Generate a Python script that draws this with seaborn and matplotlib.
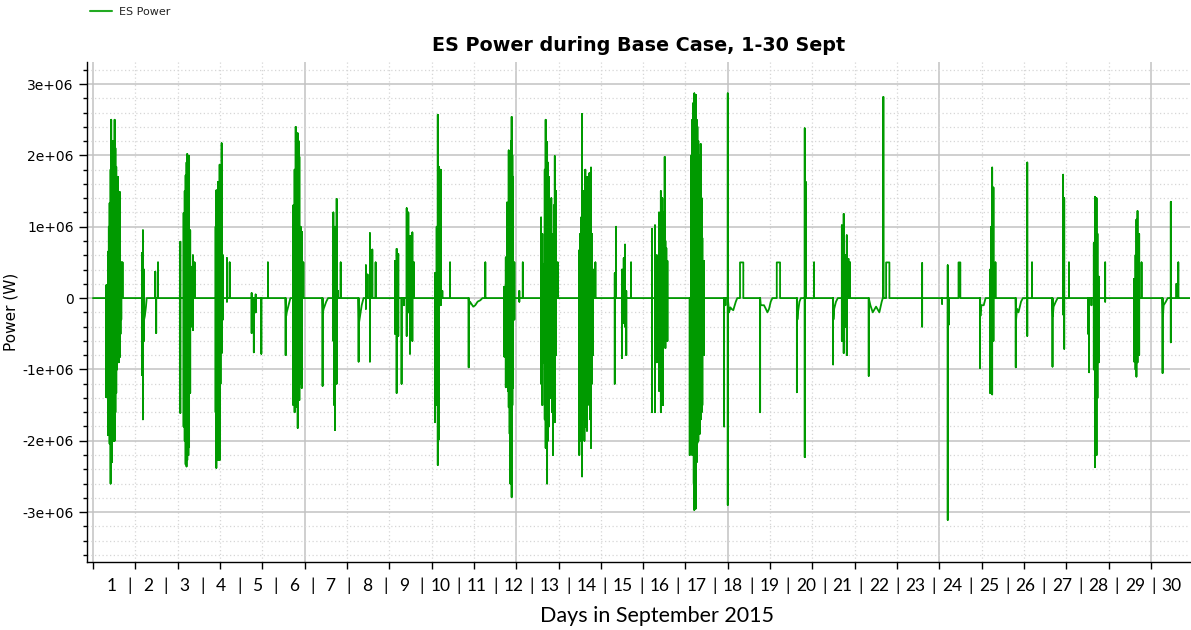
import numpy as np
import pandas as pd
import matplotlib
matplotlib.use("Agg")
import matplotlib.pyplot as plt
import matplotlib.ticker as mticker
import matplotlib.transforms as mtransforms
import seaborn as sns

# ============================================
# Data (time in days from 1 Sept 00:00, power in MW)
# ============================================
period_days = 30

# short spikes: each goes 0 -> high -> low -> 0 at the same instant
spike_day = [
    0.365, 0.41, 0.435, 0.456, 0.483, 0.50, 0.52, 0.547, 0.57, 0.593, 0.615, 0.638, 0.66, 0.684, 0.71, 0.73, 0.755, 0.775, 0.81,
    1.34, 1.368, 1.395, 1.705, 1.73, 1.78,
    2.39, 2.48, 2.51, 2.535, 2.56, 2.58, 2.61, 2.63, 2.66, 2.71, 2.735, 2.78,
    3.355, 3.375, 3.40, 3.42, 3.445, 3.465, 3.49, 3.52, 3.555, 3.665, 3.74,
    4.34, 4.375, 4.40, 4.45, 4.605, 4.785,
    5.27, 5.48, 5.515, 5.545, 5.57, 5.60, 5.625, 5.645, 5.68, 5.71, 5.755,
    6.28, 6.575, 6.60, 6.62, 6.645, 6.665, 6.70, 6.775,
    7.265, 7.465, 7.51, 7.575, 7.64, 7.73,
    8.26, 8.305, 8.35, 8.44, 8.505, 8.58, 8.625, 8.67, 8.735, 8.78,
    9.355, 9.40, 9.43, 9.465, 9.51, 9.555, 9.765,
    10.275, 10.73,
    11.25, 11.29, 11.325, 11.35, 11.37, 11.395, 11.415, 11.435, 11.45, 11.47, 11.49, 11.525, 11.66, 11.755,
    12.255, 12.29, 12.33, 12.355, 12.38, 12.40, 12.42, 12.44, 12.465, 12.51, 12.535, 12.555, 12.58, 12.605, 12.63, 12.665, 12.71,
    13.30, 13.325, 13.35, 13.375, 13.40, 13.42, 13.44, 13.465, 13.49, 13.51, 13.545, 13.575, 13.60, 13.62, 13.645, 13.675, 13.74,
    14.27, 14.305, 14.47, 14.515, 14.55, 14.585, 14.715,
    15.29, 15.37, 15.42, 15.48, 15.53, 15.55, 15.57, 15.59, 15.635, 15.655, 15.68, 15.71,
    16.32, 16.365, 16.39, 16.41, 16.43, 16.445, 16.465, 16.485, 16.51, 16.53, 16.555, 16.575, 16.60, 16.62, 16.645, 16.665, 16.71,
    17.26, 17.295, 17.36,
    18.245,
    19.25, 19.465, 19.49, 19.72,
    20.24, 20.48, 20.53, 20.58, 20.615, 20.66, 20.705,
    21.215, 21.615,
    22.675,
    23.22, 23.375, 23.405,
    24.26, 24.535, 24.56, 24.59, 24.625, 24.68,
    25.235, 25.55, 25.68,
    26.24, 26.53, 26.56, 26.69,
    27.215, 27.24, 27.305, 27.37, 27.40, 27.425, 27.445, 27.47, 27.51, 27.68,
    28.475, 28.51, 28.535, 28.565, 28.61, 28.675,
    29.25, 29.475, 29.63, 29.68,
]
spike_high = [
    0.18, 0.65, 1.0, 1.33, 1.8, 2.5, 2.0, 2.2, 1.9, 2.5, 2.1, 1.84, 1.6, 1.7, 1.2, 1.49, 0.5, 0.5, 0.5,
    0.63, 0.95, 0.4, 0.37, 0, 0.5,
    0.79, 1.19, 1.5, 1.72, 1.9, 2.02, 1.95, 1.99, 0.95, 0.44, 0.6, 0.5,
    1.0, 1.51, 1.3, 1.63, 1.2, 1.87, 1.7, 2.17, 0.6, 0.56, 0.5,
    0.07, 0, 0, 0.05, 0, 0.5,
    0, 1.3, 1.8, 2.4, 2.0, 2.31, 2.2, 1.98, 1.0, 0.93, 0.5,
    0, 1.2, 0.9, 1.0, 0.8, 1.39, 0.1, 0.5,
    0, 0.46, 0.33, 0.91, 0.68, 0.5,
    0.52, 0.69, 0.62, 0, 0, 1.26, 1.2, 0.87, 0.92, 0.5,
    0.35, 1.0, 2.57, 1.84, 1.8, 0.1, 0.5,
    0, 0.5,
    0.16, 0.57, 1.34, 1.0, 2.07, 1.9, 2.03, 2.2, 2.54, 2.0, 1.7, 0.5, 0.1, 0.5,
    1.13, 0.9, 0.48, 1.8, 2.5, 2.1, 2.19, 1.9, 1.7, 1.2, 1.4, 0.7, 0.9, 1.3, 1.99, 1.5, 0.5,
    0.67, 0.9, 1.13, 2.58, 1.4, 1.5, 1.3, 1.8, 1.4, 1.7, 1.5, 1.75, 1.3, 1.83, 0.9, 0.4, 0.5,
    0.35, 1.0, 0.4, 0.56, 0.75, 0.1, 0.5,
    0.97, 1.02, 0.6, 1.2, 1.5, 1.0, 1.4, 1.2, 1.98, 0.8, 0.7, 0.52,
    0, 2.0, 2.5, 2.73, 2.3, 2.87, 2.6, 2.85, 2.5, 2.4, 2.2, 2.0, 1.8, 2.16, 1.4, 0.84, 0.52,
    0, 0, 2.87,
    0,
    0, 2.38, 1.63, 0.5,
    0, 1.02, 1.18, 0.6, 0.88, 0.55, 0.5,
    0, 2.82,
    0.49,
    0, 0.46, 0,
    0, 0.4, 1.0, 1.83, 1.55, 0.5,
    0, 1.9, 0.5,
    0, 1.73, 1.4, 0.5,
    0, 0, 0, 0.77, 1.42, 1.2, 1.4, 0.9, 0.3, 0.5,
    0.27, 0.6, 1.1, 1.22, 0.9, 0.5,
    0, 1.35, 0.2, 0.5,
]
spike_low = [
    -1.39, -1.92, -1.5, -2.04, -2.6, -1.9, -2.3, -1.8, -2.0, -2.0, -1.6, -1.33, -1.0, -0.83, -0.9, -0.83, -0.5, -0.3, 0,
    -1.08, -1.7, -0.6, 0, -0.49, 0,
    -1.61, -1.8, -2.0, -2.33, -2.36, -2.27, -2.2, -2.09, -1.33, -0.4, -0.45, 0,
    -1.6, -2.38, -1.9, -2.27, -2.0, -2.27, -1.2, -0.77, -0.3, -0.05, 0,
    -0.49, -0.3, -0.76, -0.2, -0.78, 0,
    -0.8, -1.5, -1.6, -1.53, -1.4, -1.82, -1.3, -1.43, -1.2, -1.26, 0,
    -1.23, -0.6, -1.5, -1.85, -1.0, -1.2, 0, 0,
    -0.89, -0.15, 0, -0.89, 0, 0,
    -0.5, -1.33, -0.53, -1.2, -0.1, -0.53, -0.2, -0.78, -0.6, 0,
    -1.74, -1.5, -2.34, -1.98, -0.1, 0, 0,
    -0.97, 0,
    -0.82, -1.25, -1.1, -1.3, -1.53, -1.9, -2.6, -2.0, -2.79, -1.5, -1.26, -0.3, -0.05, 0,
    -1.2, -1.5, -0.9, -1.7, -2.1, -1.8, -2.6, -2.0, -1.8, -1.4, -1.3, -1.6, -2.2, -1.6, -1.74, -0.8, 0,
    -2.2, -1.5, -2.0, -2.5, -1.7, -1.6, -2.0, -1.8, -1.5, -1.86, -1.4, -1.5, -1.7, -2.1, -1.2, -0.8, 0,
    -1.2, 0, -0.84, -0.35, -0.4, -0.8, 0,
    -1.6, -1.6, -0.9, -1.3, -1.6, -1.0, -1.2, -1.5, -0.6, -0.7, -0.4, -0.6,
    -2.2, -2.0, -2.2, -2.1, -2.6, -2.97, -2.4, -2.95, -2.3, -2.03, -2.0, -1.8, -1.9, -1.7, -1.6, -1.5, -0.8,
    -1.8, -0.1, -2.9,
    -1.6,
    -1.32, -2.23, 0, 0,
    -0.93, -0.6, -0.77, -0.4, -0.8, 0, 0,
    -1.09, 0,
    -0.4,
    -0.08, -3.11, -0.37,
    -0.98, -1.33, -0.6, -1.35, -0.6, 0,
    -0.97, -0.53, 0,
    -0.96, -0.23, -0.71, 0,
    -0.5, -1.04, -0.1, -1.0, -2.37, -1.8, -2.2, -1.4, -0.9, -0.05,
    -0.89, -1.0, -1.1, -0.9, -0.8, 0,
    -1.05, -0.62, 0, 0,
]

# slow negative drift after the discharge events (connected points)
dip_day = [
    1.40, 1.42, 1.45, 1.47,
    5.285, 5.30, 5.35, 5.40,
    6.29, 6.31, 6.38, 6.43,
    7.275, 7.29, 7.35, 7.40,
    10.29, 10.31, 10.40, 10.455, 10.52, 10.595, 10.65,
    17.38, 17.395, 17.43, 17.46, 17.51, 17.58, 17.62,
    18.26, 18.35, 18.40, 18.445, 18.49, 18.535, 18.58,
    19.265, 19.28, 19.32, 19.36,
    20.25, 20.27, 20.32, 20.37,
    21.26, 21.325, 21.415, 21.505, 21.57, 21.60,
    24.27, 24.29, 24.36, 24.41,
    25.245, 25.27, 25.31, 25.38, 25.43,
    26.25, 26.27, 26.33, 26.38,
    29.26, 29.28, 29.34, 29.39,
]
dip_mw = [
    -0.3, -0.25, -0.12, 0,
    -0.25, -0.2, -0.1, 0,
    -0.2, -0.15, -0.05, 0,
    -0.35, -0.3, -0.1, 0,
    -0.1, -0.05, -0.12, -0.1, -0.05, -0.03, 0,
    -0.1, -0.2, -0.13, -0.15, -0.17, -0.05, 0,
    -0.1, -0.1, -0.15, -0.2, -0.15, -0.05, 0,
    -0.3, -0.2, -0.05, 0,
    -0.3, -0.15, -0.05, 0,
    -0.1, -0.2, -0.12, -0.2, -0.05, 0,
    -0.25, -0.1, -0.1, 0,
    -0.3, -0.15, -0.2, -0.05, 0,
    -0.25, -0.12, -0.05, 0,
    -0.25, -0.1, -0.05, 0,
]

# flat charging pulses
pulse_start = [17.695, 18.70, 21.69, 23.67]
pulse_end = [17.785, 18.79, 21.78, 23.72]
pulse_mw = [0.5, 0.5, 0.5, 0.5]

day_labels = [str(d) for d in range(1, 31)]

# ============================================
# Build the power signal
# ============================================
pts = [(0.0, 0.0)]
for d, hi, lo in zip(spike_day, spike_high, spike_low):
    pts += [(d, 0.0), (d, hi), (d, lo), (d, 0.0)]
for d, v in zip(dip_day, dip_mw):
    pts.append((d, v))
for s, e, v in zip(pulse_start, pulse_end, pulse_mw):
    pts += [(s, 0.0), (s, v), (e, v), (e, 0.0)]
pts.append((float(period_days), 0.0))
pts = sorted(pts, key=lambda p: p[0])

df = pd.DataFrame(pts, columns=["day", "mw"])
df["time_s"] = df["day"] * 86400
df["power_w"] = df["mw"] * 1e6

# ============================================
# Plot
# ============================================
sns.set_theme(style="ticks")
plt.rcParams["font.family"] = ["DejaVu Sans"]
plt.rcParams["text.color"] = "black"
plt.rcParams["axes.labelcolor"] = "black"

green = "#009a00"
fig = plt.figure(figsize=(11.91, 6.30), dpi=100)
ax = fig.add_axes([87 / 1191, 68 / 630, 1103 / 1191, 500 / 630])

sns.lineplot(data=df, x="time_s", y="power_w", sort=False, estimator=None,
             color=green, lw=1.3, ax=ax, legend=False)

end_s = period_days * 86400
ax.set_xlim(-14000, end_s)
ax.set_ylim(-3.7e6, 3.31e6)

ax.xaxis.set_major_locator(mticker.MultipleLocator(500000))
ax.xaxis.set_minor_locator(mticker.MultipleLocator(100000))
ax.yaxis.set_major_locator(mticker.MultipleLocator(1e6))
ax.yaxis.set_minor_locator(mticker.MultipleLocator(2e5))
ax.xaxis.set_major_formatter(mticker.NullFormatter())
ax.yaxis.set_major_formatter(
    mticker.FuncFormatter(lambda v, p: "0" if abs(v) < 1 else f"{v:.0e}"))

ax.grid(which="major", color="#c2c2c2", lw=1.1, ls="-")
ax.grid(which="minor", color="#d6d6d6", lw=0.9, ls=(0, (1, 2)))
ax.set_axisbelow(True)

ax.tick_params(axis="both", which="both", direction="out", color="black",
               width=1, labelsize=10, labelcolor="black")
ax.tick_params(axis="x", which="both", length=5)
ax.tick_params(axis="y", which="major", length=6)
ax.tick_params(axis="y", which="minor", length=3)

for side in ["top", "right"]:
    ax.spines[side].set_visible(False)
for side in ["left", "bottom"]:
    ax.spines[side].set_color("black")
    ax.spines[side].set_linewidth(1)

ax.set_xlabel("")
ax.set_ylabel("Power (W)", fontsize=11, color="black")
ax.yaxis.set_label_coords(-0.0625, 0.5)

ax.set_title("ES Power during Base Case, 1-30 Sept", fontsize=13.8,
             fontweight="bold", color="black", pad=8)

# day labels under the axis
trans = mtransforms.blended_transform_factory(ax.transData, ax.transAxes)
for i, lab in enumerate(day_labels):
    ax.text((i + 0.5) * 86400, -0.048, lab, transform=trans, ha="center",
            va="center", fontsize=12.5, family="Lato", color="black")
    if i < len(day_labels) - 1:
        ax.text((i + 1) * 86400, -0.048, "|", transform=trans, ha="center",
                va="center", fontsize=12.5, family="Lato", color="black")
ax.text(0.517, -0.108, "Days in September 2015", transform=ax.transAxes,
        ha="center", va="center", fontsize=15.5, family="Lato", color="black")

handle = plt.Line2D([], [], color="#22aa22", lw=1.5)
fig.legend([handle], ["ES Power"], loc="upper left",
           bbox_to_anchor=(80 / 1191, 1.005), frameon=False, fontsize=8,
           handlelength=2.0, handletextpad=0.6, labelcolor="#222222")

fig.savefig("out.png", dpi=100)
